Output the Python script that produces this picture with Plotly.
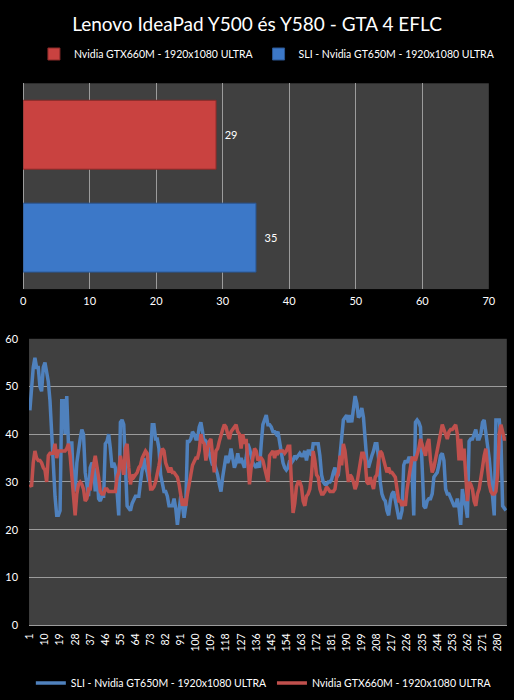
import plotly.graph_objects as go

chart_title = "Lenovo IdeaPad Y500 és Y580 - GTA 4 EFLC"

# average fps (top bar chart)
bar_names = ["Nvidia GTX660M - 1920x1080 ULTRA", "SLI - Nvidia GT650M - 1920x1080 ULTRA"]
bar_values = [29, 35]

# per-second fps log (bottom line chart)
line_names = ["SLI - Nvidia GT650M - 1920x1080 ULTRA", "Nvidia GTX660M - 1920x1080 ULTRA"]
samples = list(range(1, 286))
tick_samples = list(range(1, 286, 9))

sli_fps = [
    45, 50, 54, 56, 54, 54, 50, 49, 54, 55,
    53, 51, 47, 40, 34, 27, 23, 23, 24, 47,
    47, 40, 48, 38, 36, 38.5, 29, 28, 34, 37,
    39, 41, 40, 32, 29, 27, 33, 34, 33.5, 28,
    33, 26.5, 26, 27, 27, 38, 38.5, 40, 37, 33,
    34, 33, 28, 23, 42.5, 43, 42, 33, 25, 24.5,
    24, 25.5, 26.5, 27, 27, 27, 30, 33, 35, 33,
    32, 30, 36, 42, 42, 39, 39, 37, 31.5, 30,
    28, 28, 27, 25, 25, 25, 26.5, 24.5, 21, 24,
    27, 25, 22.5, 25, 38.5, 38.5, 39, 40.5, 40, 39,
    39, 41.5, 42.5, 40.5, 38, 38.5, 38, 36, 35, 33.5,
    34, 33, 31.5, 29.5, 28, 31, 34, 35.5, 34, 35,
    37, 35, 33, 34, 36, 34, 35, 34, 33, 35,
    38, 37, 35, 34, 33.5, 33, 34, 33, 38, 42,
    43, 44, 42, 42, 41.5, 40.5, 40.5, 40, 40.5, 38,
    36, 34, 33, 32.5, 33, 34.5, 34, 34.5, 35.5, 35,
    35.5, 36, 35.5, 35.5, 36.5, 34.5, 36.5, 36.5, 35.5, 38,
    38, 38, 38, 35.5, 31.5, 30, 29.5, 29.5, 30, 30,
    30.5, 32, 33, 31, 31.5, 35.5, 39, 43, 43.5, 44,
    42.5, 44, 42.5, 45.5, 48, 46.5, 43.5, 44, 45.5, 43.5,
    38.5, 34.5, 33, 34.5, 35.5, 36.5, 38, 38, 35, 30,
    27.5, 26.5, 26, 24, 23, 26, 27.5, 28, 26, 24.5,
    22.5, 22.5, 24, 33.5, 34.5, 34, 35, 35, 32, 23,
    42.5, 43, 42.5, 41.5, 31.5, 25, 24.5, 26, 26.5, 26.5,
    27.5, 31, 31.5, 32, 33.5, 35.5, 36, 34.5, 28.5, 27.5,
    27.5, 26.5, 26, 25, 25, 26.5, 24.5, 21, 28.5, 26,
    25, 22.5, 38.5, 39, 39, 40, 41, 39, 39, 40,
    42.5, 43, 40.5, 38.5, 35, 31, 26.5, 23, 43, 43,
    43, 39, 25, 24.5, 24,
]

gtx660m_fps = [
    29.5, 29, 34, 36.5, 35, 34.5, 34.5, 34, 33, 32.5,
    30, 35.5, 36, 36, 36, 38, 35, 36.5, 36.5, 36.5,
    36.5, 36.5, 37, 38, 35.5, 31.5, 26, 23, 27.5, 29.5,
    30, 29.5, 28.5, 26, 26.5, 28.5, 28.5, 31.5, 33.5, 35.5,
    33.5, 31, 28, 27.5, 27.5, 28.5, 28.5, 28, 28, 28,
    28, 28, 31, 32, 35.5, 33, 31.5, 37, 38, 33,
    29.5, 31.5, 31, 31.5, 32, 33, 33.5, 35, 36, 36.5,
    36, 33, 28.5, 28.5, 29, 30, 31.5, 33.5, 35.5, 37,
    36.5, 34, 33, 32, 33, 32, 32, 31.5, 31, 29.5,
    27.5, 25, 26.5, 25, 27.5, 30, 31.5, 33.5, 34.5, 35,
    35, 36.5, 40, 38.5, 38, 34.5, 37, 38.5, 39, 35.5,
    32, 36.5, 37, 38.5, 40, 41, 42, 41.5, 40, 39,
    40.5, 41, 41.5, 42, 40.5, 40, 37, 40, 38, 39,
    34.5, 29.5, 33, 35.5, 37, 36.5, 34.5, 35, 35, 34.5,
    33, 31, 30, 35.5, 36, 36.5, 35, 36.5, 36, 36.5,
    36.5, 36.5, 36, 36.5, 37.5, 37.5, 30, 23.5, 25.5, 29,
    30, 30, 29, 26, 25, 27, 27.5, 28.5, 31.5, 36.5,
    34.5, 31.5, 31, 28.5, 27.5, 27.5, 28, 29, 28.5, 28,
    28, 28, 28.5, 31, 32, 35.5, 33.5, 38, 36.5, 33,
    30, 31.5, 31, 30, 28.5, 29.5, 31.5, 33, 36, 36,
    34.5, 30, 29.5, 31, 29.5, 28.5, 31, 31.5, 34.5, 36.5,
    36, 34.5, 33, 32, 33, 32, 32, 31.5, 31, 28.5,
    26, 26, 25, 26, 25, 28.5, 31.5, 33, 35, 35,
    34.5, 35.5, 37, 39, 38, 37, 35.5, 38, 39, 34.5,
    32, 33, 35, 37, 38.5, 41, 42, 41, 40, 39,
    40.5, 41, 41, 41.5, 42, 40, 34.5, 39, 34.5, 37,
    30, 26, 30, 29.5, 28.5, 26, 25, 27.5, 28.5, 31.5,
    33, 35.5, 37, 33, 29.5, 28, 27.5, 27.5, 28, 31.5,
    40, 42, 40.5, 39, 39,
]

red = "#C0504D"
blue = "#4F81BD"
grid = "#9C9C9C"

fig = go.Figure()

fig.add_trace(go.Bar(
    y=[bar_names[0]], x=[bar_values[0]], orientation="h", name=bar_names[0],
    marker=dict(color="#C94240", line=dict(color="#8A2A28", width=1)),
    width=0.67, text=[bar_values[0]], texttemplate="  %{text}", textposition="outside",
    textfont=dict(color="white", size=11), cliponaxis=False,
    xaxis="x", yaxis="y", legend="legend",
))
fig.add_trace(go.Bar(
    y=[bar_names[1]], x=[bar_values[1]], orientation="h", name=bar_names[1],
    marker=dict(color="#3C78C8", line=dict(color="#2A5590", width=1)),
    width=0.67, text=[bar_values[1]], texttemplate="  %{text}", textposition="outside",
    textfont=dict(color="white", size=11), cliponaxis=False,
    xaxis="x", yaxis="y", legend="legend",
))

fig.add_trace(go.Scatter(
    x=samples, y=sli_fps, mode="lines", name=line_names[0],
    line=dict(color=blue, width=3.5), xaxis="x2", yaxis="y2", legend="legend2",
))
fig.add_trace(go.Scatter(
    x=samples, y=gtx660m_fps, mode="lines", name=line_names[1],
    line=dict(color=red, width=3.5), xaxis="x2", yaxis="y2", legend="legend2",
))

fig.update_layout(
    width=514, height=700,
    margin=dict(l=0, r=0, t=0, b=0, autoexpand=False),
    paper_bgcolor="black", plot_bgcolor="#404040",
    font=dict(family="Lato", color="white", size=11),
    title=dict(text=chart_title, x=0.5, xanchor="center", y=1 - 24 / 700,
               yanchor="middle", font=dict(size=19, color="white")),
    barmode="overlay",
    showlegend=True,
    xaxis=dict(domain=[0.045, 0.951], range=[0, 70], dtick=10, anchor="y",
               showgrid=True, gridcolor=grid, gridwidth=1, zeroline=True,
               zerolinecolor=grid, zerolinewidth=1, ticks="", automargin=False,
               ticklabelstandoff=4),
    yaxis=dict(domain=[0.587, 0.881], anchor="x", categoryorder="array",
               categoryarray=[bar_names[1], bar_names[0]], showticklabels=False,
               showgrid=False, ticks="", automargin=False),
    xaxis2=dict(domain=[0.0565, 0.986], range=[0.5, 285.5], anchor="y2",
                tickvals=tick_samples, tickangle=-90, showgrid=False,
                showline=True, linecolor=grid, ticks="", zeroline=False,
                tickfont=dict(size=10.5), automargin=False, ticklabelstandoff=3),
    yaxis2=dict(domain=[0.107, 0.516], range=[0, 60], dtick=10, anchor="x2",
                showgrid=True, gridcolor=grid, gridwidth=1, zeroline=False,
                ticks="", automargin=False, ticklabelstandoff=10),
    legend=dict(orientation="h", x=0.066, xanchor="left", y=1 - 54 / 700,
                yanchor="middle", bgcolor="rgba(0,0,0,0)", font=dict(size=10.5),
                itemwidth=30),
    legend2=dict(orientation="h", x=0.06, xanchor="left", y=1 - 683 / 700,
                 yanchor="middle", bgcolor="rgba(0,0,0,0)", font=dict(size=10.5),
                 itemwidth=30),
)

# the page body has an 8px default margin; drop it so the 514x700 figure fills the window
fig.write_html(
    "out.html",
    config={"displayModeBar": False},
    post_script="document.body.style.margin='0';document.body.style.background='black';",
)
